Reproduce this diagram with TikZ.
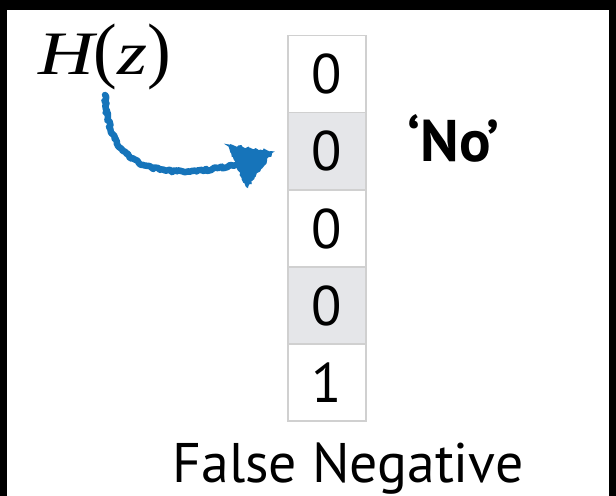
\documentclass[tikz,border=0pt]{standalone}
\usepackage{fontspec}
\setmainfont{PT Sans}
\newfontfamily\tnr{Liberation Serif}
\usetikzlibrary{decorations.pathmorphing,calc}
\definecolor{arrowblue}{RGB}{22,116,186}
\definecolor{cellgray}{RGB}{229,230,233}
\definecolor{cellline}{RGB}{208,208,208}
\begin{document}
\begin{tikzpicture}[x=1bp,y=-1bp,
  cell/.style={draw=cellline, line width=1.2bp, minimum width=78bp, minimum height=77bp,
    inner sep=0pt, font=\fontsize{56}{60}\selectfont},
  rough/.style={decorate, decoration={random steps, segment length=2.2bp, amplitude=1.3bp}},
  sketchline/.style={rough, draw=arrowblue, line width=6.5bp, line cap=round, line join=round},
  sketchhead/.style={rough, fill=arrowblue, draw=arrowblue, line width=1.5bp}]
\useasboundingbox (0,0) rectangle (616,496);
\fill[black] (0,0) rectangle (616,496);
\fill[white] (7,10) rectangle (609,497);
% cells
\node[cell, fill=white]    (c1) at (327,74)    {0};
\node[cell, fill=cellgray] (c2) at (327,151)   {0};
\node[cell, fill=white]    (c3) at (327,228.5) {0};
\node[cell, fill=cellgray] (c4) at (327,305.5) {0};
\node[cell, fill=white]    (c5) at (327,382.5) {1};
% labels
\node[anchor=base west, inner sep=0pt, font=\tnr\fontsize{62}{70}\selectfont] (hz) at (38,75)
  {\scalebox{1.25}[1]{\itshape H}\scalebox{1.15}[1.18]{(}\scalebox{1.25}[1]{\itshape z}\scalebox{1.15}[1.18]{)}};
\node[anchor=base, inner sep=0pt, font=\bfseries\fontsize{59}{64}\selectfont] (no) at (453.5,162) {‘No’};
\node[anchor=base, inner sep=0pt, font=\fontsize{56}{60}\selectfont] (fn) at (348,482) {False Negative};
% hand-drawn arrow
\coordinate (as) at (hz.base west);
\coordinate (as) at ($(as)+(67,20)$);
\coordinate (ae) at ($(c2.west)+(-52,14)$);
\draw[sketchline] (as) .. controls ($(as)+(2,62)$) and ($(as)+(36,90)$) .. (ae);
\path[sketchhead] ($(c2.west)+(-60,-6)$) -- ($(c2.west)+(-15,1)$) -- ($(c2.west)+(-40,36)$) -- cycle;
\end{tikzpicture}
\end{document}
